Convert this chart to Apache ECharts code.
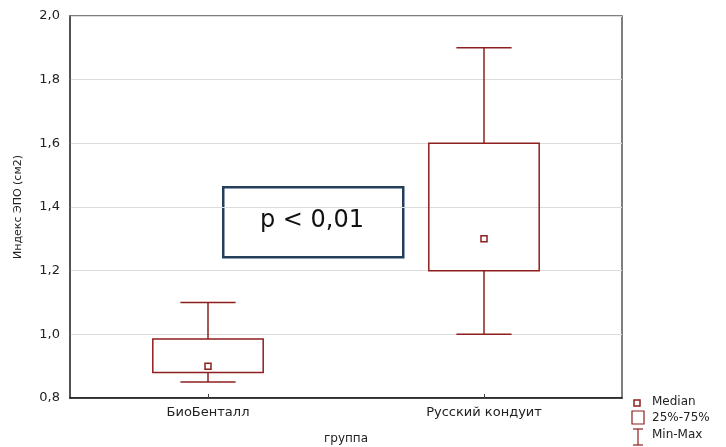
<!DOCTYPE html>
<html><head><meta charset="utf-8">
<script src="https://cdn.jsdelivr.net/npm/echarts@6/dist/echarts.min.js"></script>
<style>html,body{margin:0;padding:0;background:#fff}#c{width:726px;height:447px}</style>
</head><body><div id="c"></div>
<script>
const categories = ['БиоБенталл', 'Русский кондуит'];
const minVals = [0.85, 1.0];
const q1Vals = [0.88, 1.2];
const medianVals = [0.9, 1.3];
const q3Vals = [0.985, 1.6];
const maxVals = [1.1, 1.9];
const yTicks = [0.8, 1.0, 1.2, 1.4, 1.6, 1.8, 2.0];

const red = '#8e1f1f';
const FF = '"DejaVu Sans", sans-serif';
const data = categories.map((c, i) => [i, minVals[i], q1Vals[i], medianVals[i], q3Vals[i], maxVals[i]]);

const chart = echarts.init(document.getElementById('c'));
chart.setOption({
  animation: false,
  grid: { left: 70, right: 104, top: 16, bottom: 49, containLabel: false, outerBoundsMode: 'none', show: true, borderColor: '#555', borderWidth: 1.5 },
  xAxis: {
    type: 'category', data: categories,
    name: 'группа', nameLocation: 'middle', nameGap: 35,
    nameTextStyle: { fontFamily: FF, fontSize: 12, color: '#222' },
    axisLine: { lineStyle: { color: '#111', width: 1.5 } },
    axisTick: { show: true, alignWithLabel: true, inside: true, length: 4, lineStyle: { color: '#444' } },
    axisLabel: { fontFamily: FF, fontSize: 13, color: '#222', margin: 8 },
    splitLine: { show: false }
  },
  yAxis: {
    type: 'value', min: 0.8, max: 2.0, interval: 0.2,
    name: 'Индекс ЭПО (см2)', nameLocation: 'middle', nameGap: 46,
    nameTextStyle: { fontFamily: FF, fontSize: 11, color: '#222' },
    axisLine: { show: true, lineStyle: { color: '#444', width: 1.5 } },
    axisTick: { show: false },
    axisLabel: { fontFamily: FF, fontSize: 13, color: '#222', margin: 10,
      formatter: v => yTicks.some(t => Math.abs(t - v) < 1e-6) ? v.toFixed(1).replace('.', ',') : '' },
    splitLine: { show: true, lineStyle: { color: '#dcdcdc', width: 1 } }
  },
  series: [{
    type: 'custom',
    data: data,
    encode: { x: 0, y: [1, 2, 3, 4, 5] },
    renderItem: function (params, api) {
      const x = api.value(0);
      const pMin = api.coord([x, api.value(1)]);
      const pQ1 = api.coord([x, api.value(2)]);
      const pMed = api.coord([x, api.value(3)]);
      const pQ3 = api.coord([x, api.value(4)]);
      const pMax = api.coord([x, api.value(5)]);
      const band = api.size([1, 0])[0];
      const bw = band * 0.40, cw = band * 0.20;
      const cx = pMin[0];
      const ls = { stroke: red, lineWidth: 1.5, fill: null };
      return {
        type: 'group',
        children: [
          { type: 'line', shape: { x1: cx, y1: pMax[1], x2: cx, y2: pQ3[1] }, style: ls },
          { type: 'line', shape: { x1: cx, y1: pQ1[1], x2: cx, y2: pMin[1] }, style: ls },
          { type: 'line', shape: { x1: cx - cw / 2, y1: pMax[1], x2: cx + cw / 2, y2: pMax[1] }, style: ls },
          { type: 'line', shape: { x1: cx - cw / 2, y1: pMin[1], x2: cx + cw / 2, y2: pMin[1] }, style: ls },
          { type: 'rect', shape: { x: cx - bw / 2, y: pQ3[1], width: bw, height: pQ1[1] - pQ3[1] }, style: { stroke: red, lineWidth: 1.5, fill: 'rgba(0,0,0,0)' } },
          { type: 'rect', shape: { x: cx - 3, y: pMed[1] - 3, width: 6, height: 6 }, style: { stroke: red, lineWidth: 1.5, fill: '#fff' } }
        ]
      };
    }
  }],
  graphic: [
    { type: 'rect', left: 222, top: 186, shape: { width: 180, height: 70 }, style: { fill: '#fff', stroke: '#243f5c', lineWidth: 2.5 } },
    { type: 'text', x: 312, y: 221, style: { text: 'p < 0,01', font: '24px "DejaVu Sans", sans-serif', fill: '#111', align: 'center', verticalAlign: 'middle' } },
    // legend
    { type: 'rect', shape: { x: 634, y: 400, width: 6, height: 6 }, style: { stroke: red, lineWidth: 1.5, fill: '#fff' } },
    { type: 'text', left: 652, top: 396, style: { text: 'Median', font: '12px "DejaVu Sans"', fill: '#222' } },
    { type: 'rect', shape: { x: 632, y: 411, width: 12, height: 13 }, style: { stroke: red, lineWidth: 1.2, fill: '#fff' } },
    { type: 'text', left: 652, top: 412, style: { text: '25%-75%', font: '12px "DejaVu Sans"', fill: '#222' } },
    { type: 'line', shape: { x1: 638, y1: 429, x2: 638, y2: 445 }, style: { stroke: red, lineWidth: 1.2 } },
    { type: 'line', shape: { x1: 633, y1: 429, x2: 643, y2: 429 }, style: { stroke: red, lineWidth: 1.2 } },
    { type: 'line', shape: { x1: 633, y1: 445, x2: 643, y2: 445 }, style: { stroke: red, lineWidth: 1.2 } },
    { type: 'text', left: 652, top: 429, style: { text: 'Min-Max', font: '12px "DejaVu Sans"', fill: '#222' } }
  ]
});
</script></body></html>
